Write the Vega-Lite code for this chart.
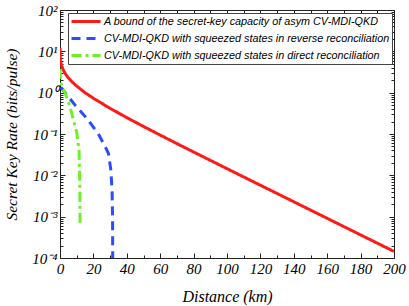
{
  "$schema": "https://vega.github.io/schema/vega-lite/v6.json",
  "width": 334,
  "height": 248,
  "autosize": {"type": "none"},
  "padding": {"left": 60, "top": 10, "right": 15, "bottom": 48},
  "background": "white",
  "config": {
    "view": {"stroke": "#222222", "strokeWidth": 1},
    "axis": {
      "grid": false,
      "domain": false,
      "tickColor": "#222222",
      "tickWidth": 1,
      "labelOverlap": false,
      "labelFlush": false,
      "labelFont": "Liberation Serif",
      "labelFontStyle": "italic",
      "labelFontSize": 15,
      "labelColor": "#000000",
      "titleFont": "Liberation Serif",
      "titleFontStyle": "italic",
      "titleFontWeight": "normal",
      "titleFontSize": 16,
      "titleColor": "#000000"
    }
  },
  "data": {
    "values": [
      {"s": "A bound of the secret-key capacity of asym CV-MDI-QKD", "d": 0, "r": 12},
      {"s": "A bound of the secret-key capacity of asym CV-MDI-QKD", "d": 0.1, "r": 7.77},
      {"s": "A bound of the secret-key capacity of asym CV-MDI-QKD", "d": 0.25, "r": 6.45},
      {"s": "A bound of the secret-key capacity of asym CV-MDI-QKD", "d": 0.5, "r": 5.46},
      {"s": "A bound of the secret-key capacity of asym CV-MDI-QKD", "d": 1, "r": 4.47},
      {"s": "A bound of the secret-key capacity of asym CV-MDI-QKD", "d": 2, "r": 3.51},
      {"s": "A bound of the secret-key capacity of asym CV-MDI-QKD", "d": 3, "r": 2.95},
      {"s": "A bound of the secret-key capacity of asym CV-MDI-QKD", "d": 5, "r": 2.28},
      {"s": "A bound of the secret-key capacity of asym CV-MDI-QKD", "d": 7.5, "r": 1.78},
      {"s": "A bound of the secret-key capacity of asym CV-MDI-QKD", "d": 10, "r": 1.44},
      {"s": "A bound of the secret-key capacity of asym CV-MDI-QKD", "d": 15, "r": 1.0},
      {"s": "A bound of the secret-key capacity of asym CV-MDI-QKD", "d": 20, "r": 0.732},
      {"s": "A bound of the secret-key capacity of asym CV-MDI-QKD", "d": 30, "r": 0.417},
      {"s": "A bound of the secret-key capacity of asym CV-MDI-QKD", "d": 40, "r": 0.249},
      {"s": "A bound of the secret-key capacity of asym CV-MDI-QKD", "d": 50, "r": 0.152},
      {"s": "A bound of the secret-key capacity of asym CV-MDI-QKD", "d": 60, "r": 0.094},
      {"s": "A bound of the secret-key capacity of asym CV-MDI-QKD", "d": 70, "r": 0.0586},
      {"s": "A bound of the secret-key capacity of asym CV-MDI-QKD", "d": 80, "r": 0.0367},
      {"s": "A bound of the secret-key capacity of asym CV-MDI-QKD", "d": 100, "r": 0.0145},
      {"s": "A bound of the secret-key capacity of asym CV-MDI-QKD", "d": 120, "r": 0.00576},
      {"s": "A bound of the secret-key capacity of asym CV-MDI-QKD", "d": 140, "r": 0.00229},
      {"s": "A bound of the secret-key capacity of asym CV-MDI-QKD", "d": 160, "r": 0.000911},
      {"s": "A bound of the secret-key capacity of asym CV-MDI-QKD", "d": 180, "r": 0.000362},
      {"s": "A bound of the secret-key capacity of asym CV-MDI-QKD", "d": 200, "r": 0.000144},
      {"s": "CV-MDI-QKD with squeezed states in reverse reconciliation", "d": 0.5, "r": 1.35},
      {"s": "CV-MDI-QKD with squeezed states in reverse reconciliation", "d": 4, "r": 0.9},
      {"s": "CV-MDI-QKD with squeezed states in reverse reconciliation", "d": 9, "r": 0.5},
      {"s": "CV-MDI-QKD with squeezed states in reverse reconciliation", "d": 16, "r": 0.24},
      {"s": "CV-MDI-QKD with squeezed states in reverse reconciliation", "d": 23, "r": 0.1},
      {"s": "CV-MDI-QKD with squeezed states in reverse reconciliation", "d": 27, "r": 0.05},
      {"s": "CV-MDI-QKD with squeezed states in reverse reconciliation", "d": 29, "r": 0.034},
      {"s": "CV-MDI-QKD with squeezed states in reverse reconciliation", "d": 30.5, "r": 0.013},
      {"s": "CV-MDI-QKD with squeezed states in reverse reconciliation", "d": 31.2, "r": 0.004},
      {"s": "CV-MDI-QKD with squeezed states in reverse reconciliation", "d": 31.5, "r": 0.0008},
      {"s": "CV-MDI-QKD with squeezed states in reverse reconciliation", "d": 31.6, "r": 0.00001},
      {"s": "CV-MDI-QKD with squeezed states in direct reconciliation", "d": 0, "r": 3.8},
      {"s": "CV-MDI-QKD with squeezed states in direct reconciliation", "d": 0.3, "r": 2.0},
      {"s": "CV-MDI-QKD with squeezed states in direct reconciliation", "d": 1, "r": 1.4},
      {"s": "CV-MDI-QKD with squeezed states in direct reconciliation", "d": 3, "r": 1.0},
      {"s": "CV-MDI-QKD with squeezed states in direct reconciliation", "d": 6, "r": 0.46},
      {"s": "CV-MDI-QKD with squeezed states in direct reconciliation", "d": 8, "r": 0.22},
      {"s": "CV-MDI-QKD with squeezed states in direct reconciliation", "d": 10, "r": 0.11},
      {"s": "CV-MDI-QKD with squeezed states in direct reconciliation", "d": 11.4, "r": 0.04},
      {"s": "CV-MDI-QKD with squeezed states in direct reconciliation", "d": 11.8, "r": 0.008},
      {"s": "CV-MDI-QKD with squeezed states in direct reconciliation", "d": 11.95, "r": 0.002},
      {"s": "CV-MDI-QKD with squeezed states in direct reconciliation", "d": 12, "r": 0.0006}
    ]
  },
  "layer": [
    {
      "mark": {"type": "line", "strokeWidth": 3, "clip": true},
      "encoding": {
        "x": {
          "field": "d", "type": "quantitative",
          "scale": {"domain": [0, 200], "nice": false},
          "axis": {
            "orient": "bottom",
            "title": "Distance (km)",
            "values": [0,10,20,30,40,50,60,70,80,90,100,110,120,130,140,150,160,170,180,190,200],
            "labelExpr": "datum.value % 20 == 0 ? datum.label : ''",
            "tickSize": {"condition": {"test": "datum.value % 20 == 0", "value": -5}, "value": -3},
            "labelPadding": 8,
            "titlePadding": 10
          }
        },
        "y": {
          "field": "r", "type": "quantitative",
          "scale": {"type": "log", "domain": [0.0001, 100], "nice": false},
          "axis": {
            "orient": "left",
            "title": "Secret Key Rate (bits/pulse)",
            "titleFontSize": 15.5,
            "values": [0.0001,0.0002,0.0003,0.0004,0.0005,0.0006,0.0007,0.0008,0.0009,0.001,0.002,0.003,0.004,0.005,0.006,0.007,0.008,0.009,0.01,0.02,0.03,0.04,0.05,0.06,0.07,0.08,0.09,0.1,0.2,0.3,0.4,0.5,0.6,0.7,0.8,0.9,1,2,3,4,5,6,7,8,9,10,20,30,40,50,60,70,80,90,100],
            "labelExpr": "datum.value==100?'10²':datum.value==10?'10¹':datum.value==1?'10⁰':datum.value==0.1?'10⁻¹':datum.value==0.01?'10⁻²':datum.value==0.001?'10⁻³':datum.value==0.0001?'10⁻⁴':''",
            "tickSize": {"condition": {"test": "indexof([100,10,1,0.1,0.01,0.001,0.0001], datum.value) >= 0", "value": -5}, "value": -3},
            "labelPadding": 8,
            "titlePadding": 12
          }
        },
        "color": {
          "field": "s", "type": "nominal",
          "scale": {
            "domain": ["A bound of the secret-key capacity of asym CV-MDI-QKD", "CV-MDI-QKD with squeezed states in reverse reconciliation", "CV-MDI-QKD with squeezed states in direct reconciliation"],
            "range": ["#ff1a1a", "#2b4cff", "#6cf02a"]
          },
          "legend": {
            "title": null,
            "orient": "none",
            "legendX": 8,
            "legendY": 3,
            "symbolType": "M-1,0H4.8",
            "symbolSize": 100,
            "symbolStrokeWidth": 3,
            "labelFont": "Liberation Sans",
            "labelFontStyle": "italic",
            "labelFontSize": 10.8,
            "labelColor": "#000000",
            "labelLimit": 0,
            "labelOffset": 21,
            "rowPadding": 4,
            "padding": 2,
            "strokeColor": "#444444",
            "fillColor": "white"
          }
        },
        "strokeDash": {
          "field": "s", "type": "nominal",
          "scale": {
            "domain": ["A bound of the secret-key capacity of asym CV-MDI-QKD", "CV-MDI-QKD with squeezed states in reverse reconciliation", "CV-MDI-QKD with squeezed states in direct reconciliation"],
            "range": [[1, 0], [9, 6], [10, 4, 3, 4]]
          },
          "legend": null
        }
      }
    },
    {
      "mark": {"type": "line", "opacity": 0},
      "encoding": {
        "x": {
          "field": "d", "type": "quantitative",
          "axis": {
            "orient": "top", "title": null, "labels": false,
            "values": [0,10,20,30,40,50,60,70,80,90,100,110,120,130,140,150,160,170,180,190,200],
            "tickSize": {"condition": {"test": "datum.value % 20 == 0", "value": -5}, "value": -3}
          }
        },
        "y": {
          "field": "r", "type": "quantitative",
          "axis": {
            "orient": "right", "title": null, "labels": false,
            "values": [0.0001,0.0002,0.0003,0.0004,0.0005,0.0006,0.0007,0.0008,0.0009,0.001,0.002,0.003,0.004,0.005,0.006,0.007,0.008,0.009,0.01,0.02,0.03,0.04,0.05,0.06,0.07,0.08,0.09,0.1,0.2,0.3,0.4,0.5,0.6,0.7,0.8,0.9,1,2,3,4,5,6,7,8,9,10,20,30,40,50,60,70,80,90,100],
            "tickSize": {"condition": {"test": "indexof([100,10,1,0.1,0.01,0.001,0.0001], datum.value) >= 0", "value": -5}, "value": -3}
          }
        },
        "detail": {"field": "s"}
      }
    }
  ],
  "resolve": {"axis": {"x": "independent", "y": "independent"}}
}
